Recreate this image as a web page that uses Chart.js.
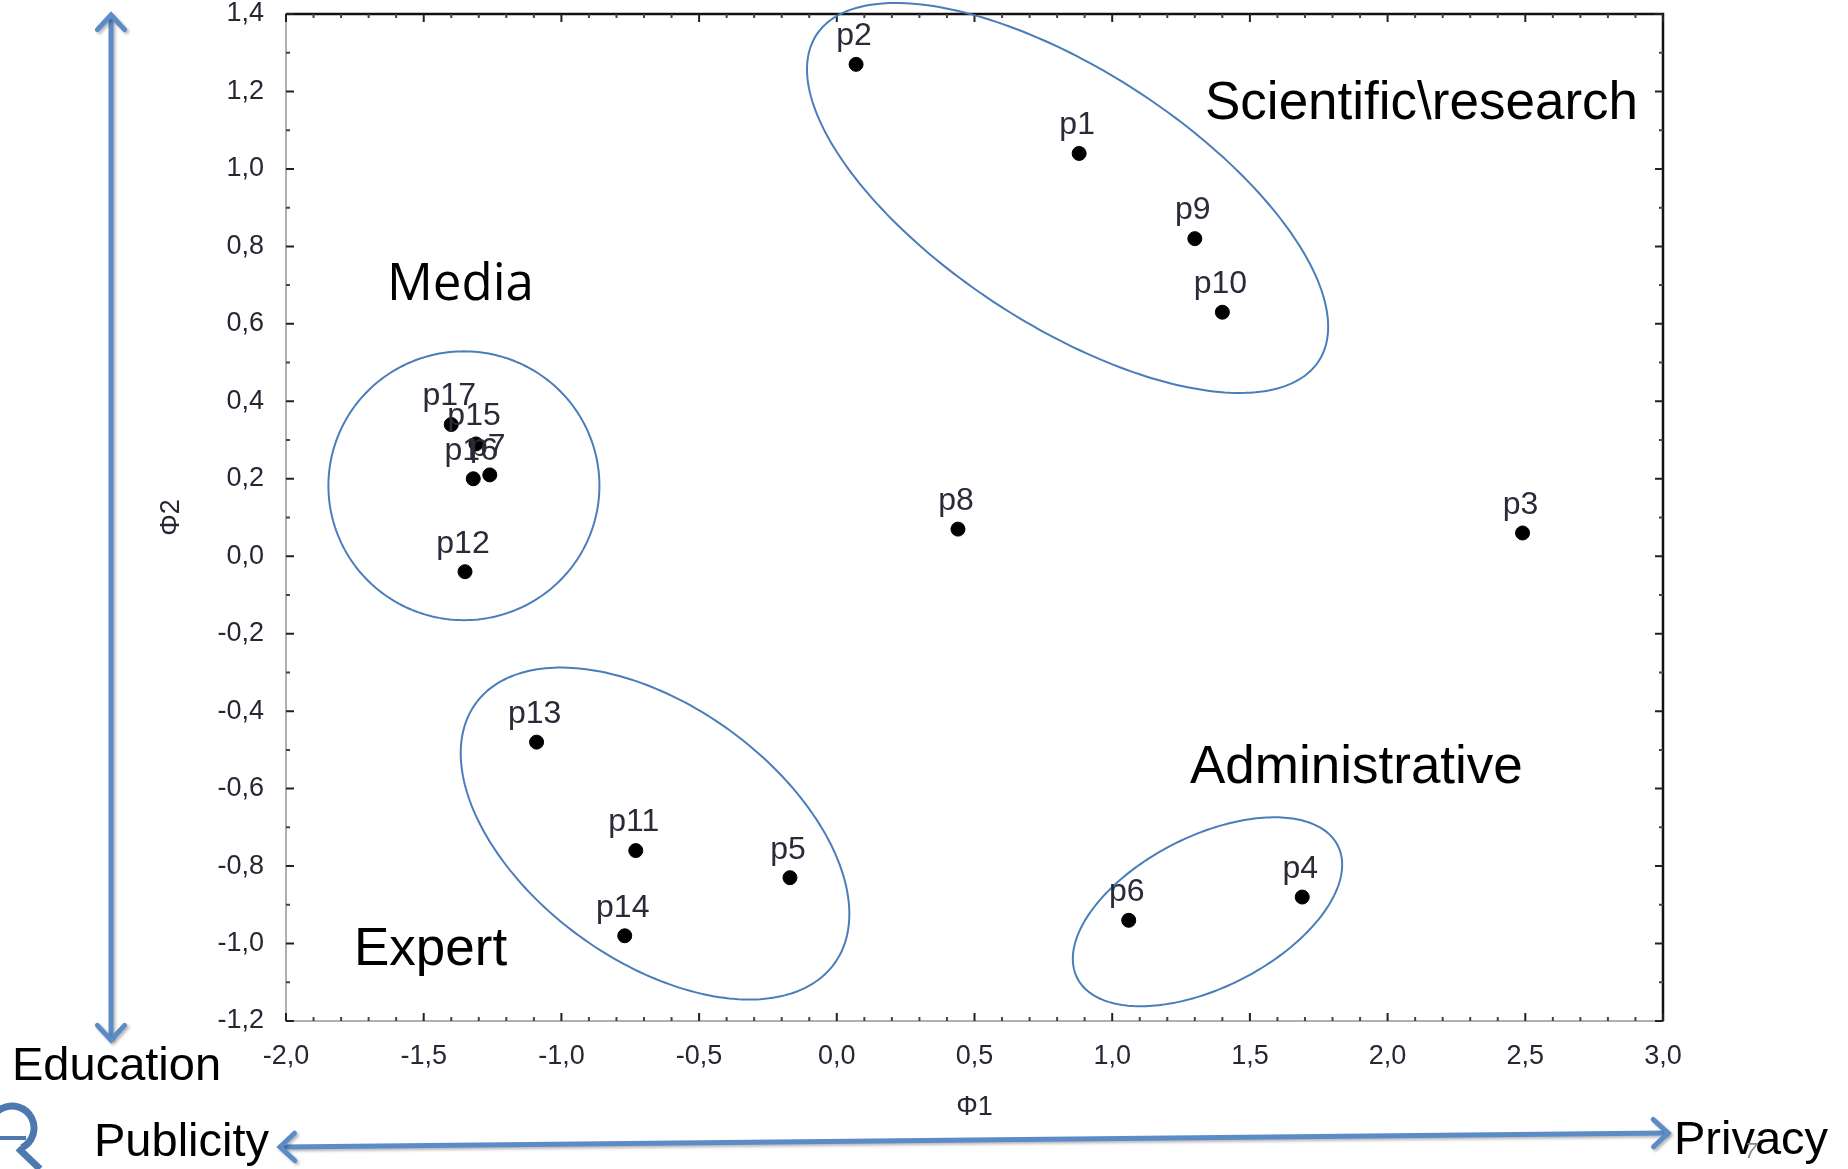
<!DOCTYPE html>
<html><head><meta charset="utf-8">
<script src="https://cdn.jsdelivr.net/npm/chart.js@4.4.0/dist/chart.umd.min.js"></script>
<style>html,body{margin:0;padding:0;background:#fff;overflow:hidden}canvas{display:block}</style>
</head><body>
<canvas id="c" width="1848" height="1169"></canvas>
<script>
// ---- data ----
const pointNames = ['p1','p2','p3','p4','p5','p6','p7','p8','p9','p10','p11','p12','p13','p14','p15','p16','p17'];
const phi1 = [0.88, 0.07, 2.49, 1.69, -0.17, 1.06, -1.26, 0.44, 1.30, 1.40, -0.73, -1.35, -1.09, -0.77, -1.31, -1.32, -1.40];
const phi2 = [1.04, 1.27, 0.06, -0.88, -0.83, -0.94, 0.21, 0.07, 0.82, 0.63, -0.76, -0.04, -0.48, -0.98, 0.29, 0.20, 0.34];
const xTickValues = [-2.0, -1.5, -1.0, -0.5, 0.0, 0.5, 1.0, 1.5, 2.0, 2.5, 3.0];
const xTickLabels = ['-2,0','-1,5','-1,0','-0,5','0,0','0,5','1,0','1,5','2,0','2,5','3,0'];
const yTickValues = [-1.2, -1.0, -0.8, -0.6, -0.4, -0.2, 0.0, 0.2, 0.4, 0.6, 0.8, 1.0, 1.2, 1.4];
const yTickLabels = ['-1,2','-1,0','-0,8','-0,6','-0,4','-0,2','0,0','0,2','0,4','0,6','0,8','1,0','1,2','1,4'];
const xAxisTitle = 'Φ1';
const yAxisTitle = 'Φ2';
// cluster outlines (data units): centre, two conjugate semi-axis vectors
const clusterNames = ['Scientific\\research', 'Media', 'Expert', 'Administrative'];
const clusterCentres = [[0.838, 0.925], [-1.354, 0.182], [-0.660, -0.716], [1.346, -0.918]];
const clusterAxisU = [[0.912, -0.421], [0.492, 0.0], [0.651, -0.336], [0.473, 0.171]];
const clusterAxisV = [[0.252, 0.276], [0.0, 0.347], [0.272, 0.266], [0.124, -0.174]];

const FONT = "'Liberation Sans', Arial, Helvetica, sans-serif";

function nearestLabel(values, labels, v) {
  let best = 0;
  for (let i = 1; i < values.length; i++) if (Math.abs(values[i] - v) < Math.abs(values[best] - v)) best = i;
  return labels[best];
}

function arrowHead(ctx, tx, ty, ang, len, spread) {
  ctx.beginPath();
  ctx.moveTo(tx + len * Math.cos(ang + Math.PI - spread), ty + len * Math.sin(ang + Math.PI - spread));
  ctx.lineTo(tx, ty);
  ctx.lineTo(tx + len * Math.cos(ang + Math.PI + spread), ty + len * Math.sin(ang + Math.PI + spread));
  ctx.stroke();
}
function doubleArrow(ctx, x1, y1, x2, y2) {
  ctx.save();
  ctx.strokeStyle = '#5b8cc8';
  ctx.lineWidth = 5;
  ctx.lineCap = 'round';
  ctx.lineJoin = 'miter';
  ctx.shadowColor = 'rgba(0,0,0,0.28)';
  ctx.shadowOffsetX = 2; ctx.shadowOffsetY = 2; ctx.shadowBlur = 3;
  const ang = Math.atan2(y2 - y1, x2 - x1);
  const inset = 3;
  ctx.beginPath();
  ctx.moveTo(x1 + inset * Math.cos(ang), y1 + inset * Math.sin(ang));
  ctx.lineTo(x2 - inset * Math.cos(ang), y2 - inset * Math.sin(ang));
  ctx.stroke();
  arrowHead(ctx, x2, y2, ang, 20, 0.75);
  arrowHead(ctx, x1, y1, ang + Math.PI, 20, 0.75);
  ctx.restore();
}

const decor = {
  id: 'decor',
  beforeDraw(chart) {
    const ctx = chart.ctx;
    ctx.save();
    ctx.fillStyle = '#fff';
    ctx.fillRect(0, 0, chart.width, chart.height);
    ctx.restore();
  },
  afterDraw(chart) {
    const ctx = chart.ctx;
    const xs = chart.scales.x, ys = chart.scales.y;
    const a = chart.chartArea;
    ctx.save();
    // top and right frame
    ctx.strokeStyle = '#111';
    ctx.lineWidth = 2.5;
    ctx.beginPath();
    ctx.moveTo(a.left, a.top); ctx.lineTo(a.right, a.top); ctx.lineTo(a.right, a.bottom);
    ctx.stroke();
    // inward tick marks
    ctx.lineCap = 'butt';
    for (let k = -20; k <= 30; k++) {
      const v = k / 10;
      const px = xs.getPixelForValue(v);
      const major = (k % 5 === 0);
      const L = major ? 8 : 4;
      ctx.strokeStyle = major ? '#222' : '#444';
      ctx.lineWidth = 2;
      ctx.beginPath();
      ctx.moveTo(px, a.bottom); ctx.lineTo(px, a.bottom - L);
      ctx.moveTo(px, a.top); ctx.lineTo(px, a.top + L);
      ctx.stroke();
    }
    for (let k = -12; k <= 14; k++) {
      const v = k / 10;
      const py = ys.getPixelForValue(v);
      const major = (k % 2 === 0);
      const L = major ? 8 : 4;
      ctx.strokeStyle = major ? '#222' : '#444';
      ctx.lineWidth = 2;
      ctx.beginPath();
      ctx.moveTo(a.left, py); ctx.lineTo(a.left + L, py);
      ctx.moveTo(a.right, py); ctx.lineTo(a.right - L, py);
      ctx.stroke();
    }
    // cluster outlines
    ctx.strokeStyle = '#4a7ebb';
    ctx.lineWidth = 2;
    for (let e = 0; e < clusterCentres.length; e++) {
      const c = clusterCentres[e], u = clusterAxisU[e], w = clusterAxisV[e];
      ctx.beginPath();
      for (let s = 0; s <= 240; s++) {
        const t = s / 240 * Math.PI * 2;
        const dx = c[0] + u[0] * Math.cos(t) + w[0] * Math.sin(t);
        const dy = c[1] + u[1] * Math.cos(t) + w[1] * Math.sin(t);
        const px = xs.getPixelForValue(dx), py = ys.getPixelForValue(dy);
        if (s === 0) ctx.moveTo(px, py); else ctx.lineTo(px, py);
      }
      ctx.closePath();
      ctx.stroke();
    }
    // point names
    ctx.fillStyle = '#2a2a38';
    ctx.font = '32px ' + FONT;
    ctx.textAlign = 'center';
    ctx.textBaseline = 'middle';
    const meta = chart.getDatasetMeta(0);
    meta.data.forEach((el, i) => {
      ctx.fillText(pointNames[i], el.x - 2, el.y - 28);
    });
    // cluster captions
    ctx.fillStyle = '#000';
    ctx.textAlign = 'left';
    ctx.font = '53px ' + FONT;
    ctx.fillText(clusterNames[0], 1205, 104);
    ctx.fillText(clusterNames[2], 354, 950);
    ctx.fillText(clusterNames[3], 1190, 768);
    ctx.font = "51px 'Open Sans', " + FONT;
    ctx.fillText(clusterNames[1], 387, 285);
    // dimension captions
    ctx.font = '47px ' + FONT;
    ctx.fillText('Education', 12, 1067);
    ctx.fillText('Publicity', 94, 1143);
    ctx.fillText('Privacy', 1674, 1141);
    ctx.fillStyle = '#888';
    ctx.font = 'italic 22px ' + FONT;
    ctx.fillText('7', 1745, 1152);
    ctx.restore();
    // arrows
    doubleArrow(ctx, 111, 15, 111, 1040);
    doubleArrow(ctx, 280, 1147, 1668, 1133);
    // partial logo bottom-left
    ctx.save();
    ctx.strokeStyle = '#4d79b0';
    ctx.lineWidth = 7;
    ctx.beginPath();
    ctx.arc(12, 1128, 22, -Math.PI * 0.9, Math.PI * 0.35);
    ctx.stroke();
    ctx.beginPath();
    ctx.moveTo(18, 1148); ctx.lineTo(40, 1169);
    ctx.stroke();
    ctx.lineWidth = 4;
    ctx.beginPath();
    ctx.moveTo(0, 1138); ctx.lineTo(26, 1138);
    ctx.stroke();
    ctx.restore();
  }
};

const points = phi1.map((x, i) => ({ x: x, y: phi2[i] }));

new Chart(document.getElementById('c').getContext('2d'), {
  type: 'scatter',
  data: { datasets: [{ data: points, backgroundColor: '#000', borderColor: '#000', pointRadius: 7, pointHoverRadius: 7, borderWidth: 1 }] },
  options: {
    responsive: false, animation: false, events: [],
    layout: { padding: { left: 0, right: 185, top: 14, bottom: 0 } },
    plugins: { legend: { display: false }, tooltip: { enabled: false } },
    scales: {
      x: {
        type: 'linear', position: 'bottom', min: -2, max: 3,
        afterBuildTicks: s => { s.ticks = xTickValues.map(v => ({ value: v })); },
        ticks: { callback: v => nearestLabel(xTickValues, xTickLabels, v), font: { family: FONT, size: 27 }, color: '#262634', padding: 19, maxRotation: 0, autoSkip: false },
        grid: { display: false, drawTicks: false },
        border: { display: true, color: '#b0b0b0', width: 2 },
        title: { display: true, text: xAxisTitle, font: { family: FONT, size: 27 }, color: '#262634', padding: { top: 0, bottom: 45 } },
        afterFit: s => { s.height = 148; s.paddingLeft = 0; s.paddingRight = 0; }
      },
      y: {
        type: 'linear', position: 'left', min: -1.2, max: 1.4,
        afterBuildTicks: s => { s.ticks = yTickValues.map(v => ({ value: v })); },
        ticks: { callback: v => nearestLabel(yTickValues, yTickLabels, v), font: { family: FONT, size: 27 }, color: '#262634', padding: 22, autoSkip: false },
        grid: { display: false, drawTicks: false },
        border: { display: true, color: '#b0b0b0', width: 2 },
        title: { display: true, text: yAxisTitle, font: { family: FONT, size: 27 }, color: '#262634', padding: { top: 155, bottom: 0 } },
        afterFit: s => { s.width = 286; s.paddingTop = 0; s.paddingBottom = 0; }
      }
    }
  },
  plugins: [decor]
});
</script>
</body></html>
